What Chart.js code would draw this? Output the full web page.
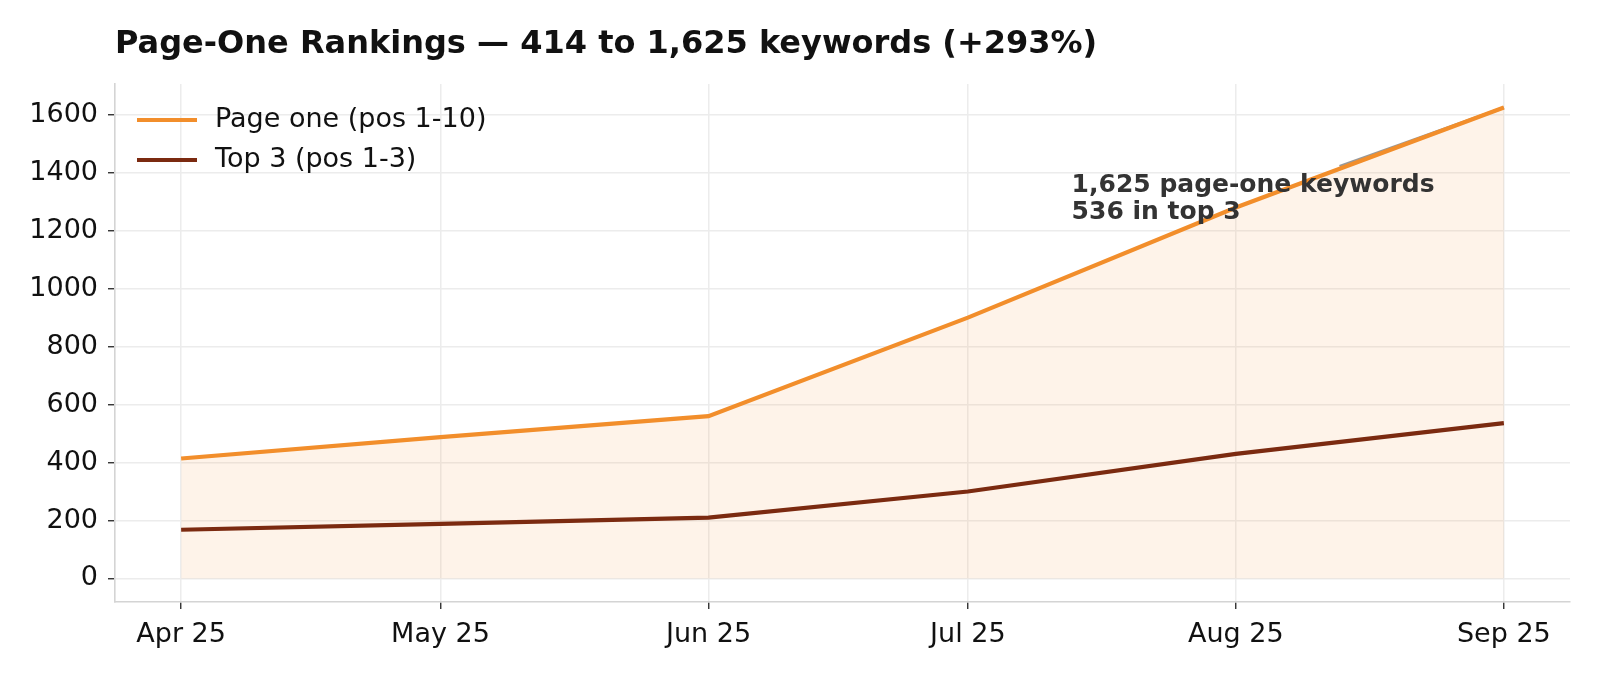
<!DOCTYPE html>
<html>
<head>
<meta charset="utf-8">
<script src="https://cdn.jsdelivr.net/npm/chart.js@4.4.1/dist/chart.umd.min.js"></script>
<style>
  html, body { margin: 0; padding: 0; background: #ffffff; }
  #wrap { width: 1600px; height: 676px; position: relative; }
</style>
</head>
<body>
<div id="wrap"><canvas id="c" width="1600" height="676"></canvas></div>
<script>
// ---- data ----
const titleText = 'Page-One Rankings \u2014 414 to 1,625 keywords (+293%)';
const monthDates = ['2025-04-01', '2025-05-01', '2025-06-01', '2025-07-01', '2025-08-01', '2025-09-01'];
const monthLabels = ['Apr 25', 'May 25', 'Jun 25', 'Jul 25', 'Aug 25', 'Sep 25'];
const pageOne = [414, 488, 560, 900, 1280, 1625];
const top3 = [168, 188, 210, 300, 430, 536];
const seriesNames = ['Page one (pos 1-10)', 'Top 3 (pos 1-3)'];
const yTicks = [0, 200, 400, 600, 800, 1000, 1200, 1400, 1600];
const annotationLines = ['1,625 page-one keywords', '536 in top 3'];
const annotationTextAt = { date: '2025-07-13', value: 1398 };
const annotationArrowFrom = { date: '2025-08-13', value: 1422 };

// ---- helpers ----
const DAY = 86400000;
const t0 = Date.parse(monthDates[0] + 'T00:00:00Z');
const dayOf = d => (Date.parse(d + 'T00:00:00Z') - t0) / DAY;
const xDays = monthDates.map(dayOf);
const span = xDays[xDays.length - 1] - xDays[0];
const yMaxData = Math.max(...pageOne);

const FONT = "'DejaVu Sans', sans-serif";

const chromePlugin = {
  id: 'chrome',
  beforeDatasetsDraw(chart) {
    const { ctx, scales: { x, y } } = chart;
    ctx.save();
    ctx.strokeStyle = '#999999';
    ctx.lineWidth = 3;
    ctx.lineCap = 'butt';
    ctx.beginPath();
    ctx.moveTo(x.getPixelForValue(dayOf(annotationArrowFrom.date)), y.getPixelForValue(annotationArrowFrom.value));
    ctx.lineTo(x.getPixelForValue(xDays[xDays.length - 1]), y.getPixelForValue(pageOne[pageOne.length - 1]));
    ctx.stroke();
    ctx.restore();
  },
  afterDraw(chart) {
    const { ctx, chartArea, scales: { x, y } } = chart;
    ctx.save();
    // title
    ctx.fillStyle = '#111111';
    ctx.font = "bold 32px " + FONT;
    ctx.textAlign = 'left';
    ctx.textBaseline = 'middle';
    ctx.fillText(titleText, chartArea.left, 45);

    // legend
    const ds = chart.data.datasets;
    ds.forEach((d, i) => {
      const yy = 120 + i * 40;
      ctx.strokeStyle = d.borderColor;
      ctx.lineWidth = 4.2;
      ctx.beginPath();
      ctx.moveTo(chartArea.left + 22, yy);
      ctx.lineTo(chartArea.left + 82, yy);
      ctx.stroke();
      ctx.fillStyle = '#111111';
      ctx.font = "27px " + FONT;
      ctx.textBaseline = 'middle';
      ctx.fillText(d.label, chartArea.left + 100, yy);
    });

    // annotation text
    ctx.fillStyle = '#333333';
    ctx.font = "bold 25px " + FONT;
    ctx.textBaseline = 'top';
    const ax = x.getPixelForValue(dayOf(annotationTextAt.date));
    const ay = y.getPixelForValue(annotationTextAt.value);
    annotationLines.forEach((l, i) => ctx.fillText(l, ax, ay + i * 27));
    ctx.restore();
  }
};

new Chart(document.getElementById('c'), {
  type: 'line',
  data: {
    datasets: [
      {
        label: seriesNames[0],
        data: xDays.map((d, i) => ({ x: d, y: pageOne[i] })),
        borderColor: '#f28e2b',
        backgroundColor: 'rgba(242,142,43,0.10)',
        borderWidth: 4.2,
        fill: 'origin',
        pointRadius: 0,
        tension: 0
      },
      {
        label: seriesNames[1],
        data: xDays.map((d, i) => ({ x: d, y: top3[i] })),
        borderColor: '#7b2a10',
        borderWidth: 4.2,
        fill: false,
        pointRadius: 0,
        tension: 0
      }
    ]
  },
  options: {
    responsive: false,
    animation: false,
    devicePixelRatio: 1,
    layout: { padding: { left: 0, right: 30, top: 84, bottom: 0 } },
    plugins: {
      legend: { display: false },
      title: { display: false },
      tooltip: { enabled: false },
      filler: { drawTime: 'beforeDatasetsDraw' }
    },
    scales: {
      x: {
        type: 'linear',
        min: xDays[0] - span * 0.05,
        max: xDays[xDays.length - 1] + span * 0.05,
        afterBuildTicks: s => { s.ticks = xDays.map(v => ({ value: v })); },
        afterFit: s => { s.height = 74; },
        ticks: {
          autoSkip: false,
          maxRotation: 0,
          padding: 10,
          color: '#111111',
          font: { family: FONT, size: 27 },
          callback: v => monthLabels[xDays.indexOf(v)]
        },
        grid: { color: '#ececec', lineWidth: 1.5, drawTicks: true, tickLength: 7, tickColor: '#222222', tickWidth: 1.3 },
        border: { display: true, color: '#d4d4d4', width: 1.6 }
      },
      y: {
        type: 'linear',
        min: -yMaxData * 0.05,
        max: yMaxData * 1.05,
        afterBuildTicks: s => { s.ticks = yTicks.map(v => ({ value: v })); },
        afterFit: s => { s.width = 115; },
        ticks: {
          padding: 10,
          color: '#111111',
          font: { family: FONT, size: 27 },
          callback: v => String(v)
        },
        grid: { color: '#ececec', lineWidth: 1.5, drawTicks: true, tickLength: 7, tickColor: '#222222', tickWidth: 1.3 },
        border: { display: true, color: '#d4d4d4', width: 1.6 }
      }
    }
  },
  plugins: [chromePlugin]
});
</script>
</body>
</html>
